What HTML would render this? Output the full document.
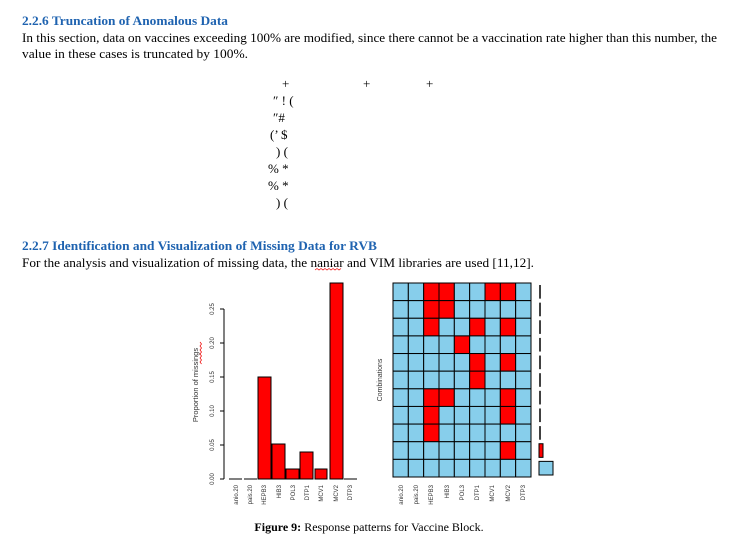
<!DOCTYPE html>
<html><head><meta charset="utf-8"><style>
html,body{margin:0;padding:0;background:#fff;}
svg{display:block;}
</style></head><body>
<svg width="738" height="540" viewBox="0 0 738 540" xmlns="http://www.w3.org/2000/svg" font-family="Liberation Serif, serif">
<rect width="738" height="540" fill="#fff"/>
<text x="22" y="25" font-size="13" font-weight="bold" fill="#1f63b0" textLength="206" lengthAdjust="spacingAndGlyphs">2.2.6 Truncation of Anomalous Data</text>
<text x="22" y="42" font-size="12.5" fill="#000" textLength="695" lengthAdjust="spacingAndGlyphs">In this section, data on vaccines exceeding 100% are modified, since there cannot be a vaccination rate higher than this number, the</text>
<text x="22" y="58" font-size="12.5" fill="#000" textLength="226" lengthAdjust="spacingAndGlyphs">value in these cases is truncated by 100%.</text>
<g font-family="Liberation Serif, serif" font-size="13" fill="#000">
<text x="282" y="88">+</text><text x="363" y="88">+</text><text x="426" y="88">+</text>
<text x="273" y="105">″ ! (</text>
<text x="273" y="122">″#</text>
<text x="270" y="139">(’ $</text>
<text x="276" y="156">) (</text>
<text x="268" y="173">%  *</text>
<text x="268" y="190">%  *</text>
<text x="276" y="207">) (</text>
</g>
<text x="22" y="250" font-size="13" font-weight="bold" fill="#1f63b0" textLength="355" lengthAdjust="spacingAndGlyphs">2.2.7 Identification and Visualization of Missing Data for RVB</text>
<text x="22" y="267" font-size="12.5" fill="#000" textLength="512" lengthAdjust="spacingAndGlyphs">For the analysis and visualization of missing data, the naniar and VIM libraries are used [11,12].</text>
<path d="M315 270 l2 -1.5 l2 1.5 l2 -1.5 l2 1.5 l2 -1.5 l2 1.5 l2 -1.5 l2 1.5 l2 -1.5 l2 1.5 l2 -1.5 l2 1.5 l2 -1.5" stroke="#e00" stroke-width="0.7" fill="none"/>

<g font-family="Liberation Sans, sans-serif" font-size="6" fill="#333">
<line x1="224" y1="309" x2="224" y2="479" stroke="#000" stroke-width="1"/>
<g stroke="#000" stroke-width="1">
<line x1="220" y1="479" x2="224" y2="479"/><line x1="220" y1="445" x2="224" y2="445"/>
<line x1="220" y1="411" x2="224" y2="411"/><line x1="220" y1="377" x2="224" y2="377"/>
<line x1="220" y1="343" x2="224" y2="343"/><line x1="220" y1="309" x2="224" y2="309"/>
</g>
<text transform="translate(214,479) rotate(-90)" text-anchor="middle">0.00</text>
<text transform="translate(214,445) rotate(-90)" text-anchor="middle">0.05</text>
<text transform="translate(214,411) rotate(-90)" text-anchor="middle">0.10</text>
<text transform="translate(214,377) rotate(-90)" text-anchor="middle">0.15</text>
<text transform="translate(214,343) rotate(-90)" text-anchor="middle">0.20</text>
<text transform="translate(214,309) rotate(-90)" text-anchor="middle">0.25</text>
<text transform="translate(198,385) rotate(-90)" text-anchor="middle" font-size="7.5">Proportion of missings</text>
<path d="M200 342 l1.5 2 l-1.5 2 l1.5 2 l-1.5 2 l1.5 2 l-1.5 2 l1.5 2 l-1.5 2 l1.5 2 l-1.5 2 l1.5 2" stroke="#e00" stroke-width="0.7" fill="none"/>
<g fill="#f00" stroke="#000" stroke-width="1">
<line x1="229" y1="479" x2="242" y2="479"/><line x1="244" y1="479" x2="257" y2="479"/>
<rect x="258" y="377" width="13" height="102"/>
<rect x="272" y="444" width="13" height="35"/>
<rect x="286" y="469" width="13" height="10"/>
<rect x="300" y="452" width="13" height="27"/>
<rect x="315" y="469" width="12" height="10"/>
<rect x="330" y="283" width="13" height="196"/>
<line x1="344" y1="479" x2="357" y2="479"/>
</g>
<g text-anchor="end">
<text transform="translate(238,485) rotate(-90)">anio.20</text>
<text transform="translate(252,485) rotate(-90)">pais.20</text>
<text transform="translate(266,485) rotate(-90)">HEPB3</text>
<text transform="translate(281,485) rotate(-90)">HIB3</text>
<text transform="translate(295,485) rotate(-90)">POL3</text>
<text transform="translate(309,485) rotate(-90)">DTP1</text>
<text transform="translate(323,485) rotate(-90)">MCV1</text>
<text transform="translate(338,485) rotate(-90)">MCV2</text>
<text transform="translate(352,485) rotate(-90)">DTP3</text>
</g>
<text transform="translate(382,380) rotate(-90)" text-anchor="middle" font-size="7">Combinations</text>
<g text-anchor="end">
<text transform="translate(403,485) rotate(-90)">anio.20</text>
<text transform="translate(418,485) rotate(-90)">pais.20</text>
<text transform="translate(433,485) rotate(-90)">HEPB3</text>
<text transform="translate(449,485) rotate(-90)">HIB3</text>
<text transform="translate(464,485) rotate(-90)">POL3</text>
<text transform="translate(479,485) rotate(-90)">DTP1</text>
<text transform="translate(494,485) rotate(-90)">MCV1</text>
<text transform="translate(510,485) rotate(-90)">MCV2</text>
<text transform="translate(525,485) rotate(-90)">DTP3</text>
</g>
</g>
<g id="grid" stroke="#000" stroke-width="1"></g>
<script>
(function(){
var red=[[2,3,6,7],[2,3],[2,5,7],[4],[5,7],[5],[2,3,7],[2,7],[2],[7],[]];
var g=document.getElementById('grid'),ns='http://www.w3.org/2000/svg';
var x0=393,y0=283,cw=(531-393)/9,rh=(477-283)/11;
for(var r=0;r<11;r++)for(var c=0;c<9;c++){
var e=document.createElementNS(ns,'rect');
e.setAttribute('x',x0+c*cw);e.setAttribute('y',y0+r*rh);
e.setAttribute('width',cw);e.setAttribute('height',rh);
e.setAttribute('fill',red[r].indexOf(c)>=0?'#f00':'#87ceeb');g.appendChild(e);}
for(var r=0;r<9;r++){var l=document.createElementNS(ns,'line');
l.setAttribute('x1',540);l.setAttribute('x2',540);
l.setAttribute('y1',y0+r*rh+2);l.setAttribute('y2',y0+r*rh+rh-2);l.setAttribute('stroke-width','1.5');g.appendChild(l);}
var a=document.createElementNS(ns,'rect');a.setAttribute('x',539);a.setAttribute('y',y0+9*rh+2);a.setAttribute('width',4);a.setAttribute('height',rh-4);a.setAttribute('fill','#f00');g.appendChild(a);
var b=document.createElementNS(ns,'rect');b.setAttribute('x',539);b.setAttribute('y',y0+10*rh+2);b.setAttribute('width',14);b.setAttribute('height',rh-4);b.setAttribute('fill','#87ceeb');g.appendChild(b);
})();
</script>
<text x="369" y="531" font-size="12" text-anchor="middle" fill="#000"><tspan font-weight="bold">Figure 9:</tspan> Response patterns for Vaccine Block.</text>
</svg>
</body></html>
